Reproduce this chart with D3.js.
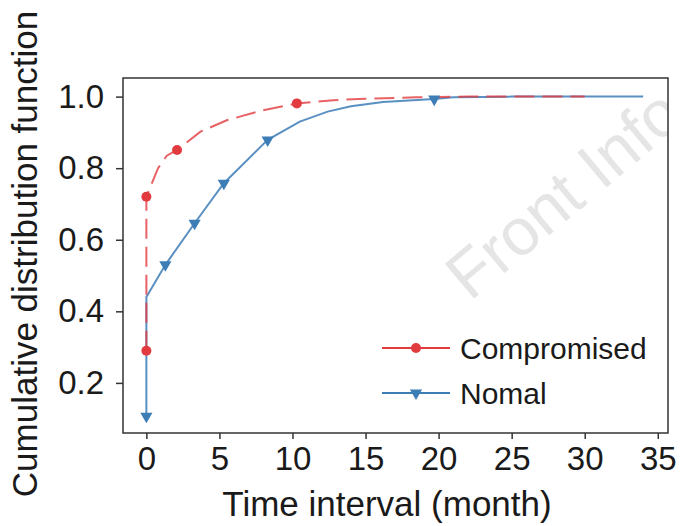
<!DOCTYPE html>
<html>
<head>
<meta charset="utf-8">
<script src="https://cdn.jsdelivr.net/npm/d3@7"></script>
<style>
  body { margin: 0; background: #fff; }
  text { font-family: "Liberation Sans", Arial, sans-serif; fill: #1a1a1a; }
</style>
</head>
<body>
<div id="chart"></div>
<script>
// DATA
////////////////////////////
var compromisedX = [0, 0, 0.3, 0.8, 1.4, 2.1, 3.7, 5.5, 8, 10.3, 12.8, 15, 18.5, 22, 26, 30];
var compromisedY = [0.29, 0.72, 0.75, 0.80, 0.835, 0.851, 0.902, 0.934, 0.962, 0.981, 0.99, 0.994, 0.998, 1.0, 1.0, 1.0];
var compromisedMarks = [0, 1, 5, 9];   // indices that carry a dot

var normalX = [0, 0, 1.3, 3.3, 5.3, 8.3, 10.5, 12.4, 14, 16.2, 19.7, 21, 25, 34];
var normalY = [0.107, 0.44, 0.53, 0.646, 0.758, 0.879, 0.93, 0.958, 0.973, 0.985, 0.993, 0.998, 1.0, 1.0];
var normalMarks = [0, 2, 3, 4, 5, 10];  // indices that carry a triangle

var xTicks = [0, 5, 10, 15, 20, 25, 30, 35];
var yTicks = [0.2, 0.4, 0.6, 0.8, 1.0];

// SETUP
////////////////////////////
var width = 681,
    height = 526;
var margin = {top: 78, right: 13, bottom: 93, left: 123};
var w = width - margin.left - margin.right,
    h = height - margin.top - margin.bottom;

var red = "#e23b3f",
    blue = "#3d7db6";

var svg = d3.select("#chart").append("svg")
    .attr("width", width)
    .attr("height", height);

var g = svg.append("g")
    .attr("transform", "translate(" + margin.left + "," + margin.top + ")");

var x = d3.scaleLinear().domain([-1.6, 35.7]).range([0, w]);
var y = d3.scaleLinear().domain([0.06, 1.052]).range([h, 0]);

// clip for the watermark (plot area)
svg.append("clipPath").attr("id", "plotclip")
  .append("rect").attr("width", w).attr("height", h);

// watermark, sits behind everything; clip on a wrapper g so the rotate doesnt rotate the clip
g.append("g")
    .attr("clip-path", "url(#plotclip)")
  .append("text")
    .attr("transform", "translate(" + (470 - margin.left) + "," + (302 - margin.top) + ") rotate(-40)")
    .style("font-size", "66px")
    .style("fill", "#e5e5e5")
    .text("Front Inform");

// LINES
////////////////////////////
function pts(xs, ys) {
  return xs.map(function(d, i) { return [d, ys[i]]; });
}
var line = d3.line()
    .x(function(d) { return x(d[0]); })
    .y(function(d) { return y(d[1]); });

var compPts = pts(compromisedX, compromisedY);
var normPts = pts(normalX, normalY);

g.append("path")
    .attr("d", line(normPts))
    .attr("fill", "none")
    .attr("stroke", blue)
    .attr("stroke-width", 2)
    .attr("stroke-opacity", 0.85);

g.append("path")
    .attr("d", line(compPts))
    .attr("fill", "none")
    .attr("stroke", red)
    .attr("stroke-width", 2)
    .attr("stroke-opacity", 0.8)
    .attr("stroke-dasharray", "20,8");

// markers
var tri = d3.symbol().type(d3.symbolTriangle).size(64);

g.selectAll(".normMark")
  .data(normalMarks.map(function(i) { return normPts[i]; }))
  .enter().append("path")
    .attr("class", "normMark")
    .attr("d", tri)
    .attr("fill", blue)
    .attr("transform", function(d) { return "translate(" + x(d[0]) + "," + y(d[1]) + ") rotate(180)"; });

g.selectAll(".compMark")
  .data(compromisedMarks.map(function(i) { return compPts[i]; }))
  .enter().append("circle")
    .attr("class", "compMark")
    .attr("r", 5)
    .attr("fill", red)
    .attr("cx", function(d) { return x(d[0]); })
    .attr("cy", function(d) { return y(d[1]); });

// AXES
////////////////////////////
var xAxis = g.append("g")
    .attr("transform", "translate(0," + h + ")")
    .call(d3.axisBottom(x).tickValues(xTicks).tickSize(6).tickPadding(8).tickFormat(d3.format("d")));
var yAxis = g.append("g")
    .call(d3.axisLeft(y).tickValues(yTicks).tickSize(7).tickPadding(12).tickFormat(d3.format(".1f")));

[xAxis, yAxis].forEach(function(a) {
  a.select(".domain").remove();
  a.selectAll("line").attr("stroke", "#333").attr("stroke-width", 1.5);
  a.selectAll("text").style("font-size", "33px").attr("fill", "#1a1a1a");
});

// frame
g.append("rect")
    .attr("width", w)
    .attr("height", h)
    .attr("fill", "none")
    .attr("stroke", "#333")
    .attr("stroke-width", 1.5);

// titles
svg.append("text")
    .attr("x", 387)
    .attr("y", 516)
    .attr("text-anchor", "middle")
    .style("font-size", "35px")
    .text("Time interval (month)");

svg.append("text")
    .attr("transform", "translate(37,254) rotate(-90)")
    .attr("text-anchor", "middle")
    .style("font-size", "35px")
    .text("Cumulative distribution function");

// LEGEND
////////////////////////////
var legend = svg.append("g");
var lg = [
  {label: "Compromised", color: red, y: 348, mark: "circle"},
  {label: "Nomal", color: blue, y: 393, mark: "tri"}
];
lg.forEach(function(d) {
  legend.append("line")
    .attr("x1", 382).attr("x2", 450)
    .attr("y1", d.y).attr("y2", d.y)
    .attr("stroke", d.color).attr("stroke-width", 2);
  if (d.mark == "circle") {
    legend.append("circle").attr("cx", 416).attr("cy", d.y).attr("r", 5).attr("fill", d.color);
  } else {
    legend.append("path").attr("d", tri).attr("fill", d.color)
      .attr("transform", "translate(416," + d.y + ") rotate(180)");
  }
  legend.append("text")
    .attr("x", 460).attr("y", d.y + 11)
    .style("font-size", "30px")
    .text(d.label);
});
</script>
</body>
</html>
